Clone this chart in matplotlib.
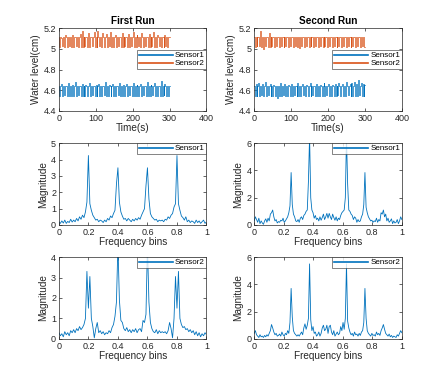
import numpy as np
import matplotlib
matplotlib.use("Agg")
import matplotlib.pyplot as plt

# Colores estilo MATLAB
BLUE = "#0072BD"
ORANGE = "#D95319"
DARK = "#262626"

# Nivel de agua - primera corrida
LEVEL1_RUN1 = [
    4.64, 4.54, 4.64, 4.66, 4.54, 4.64, 4.55, 4.64, 4.64, 4.54, 4.67, 4.54,
    4.64, 4.63, 4.54, 4.65, 4.54, 4.64, 4.68, 4.54, 4.64, 4.55, 4.64, 4.64,
    4.54, 4.66, 4.54, 4.64, 4.54, 4.65, 4.64, 4.54, 4.64, 4.67, 4.54, 4.64,
    4.55, 4.64, 4.64, 4.54, 4.65, 4.54, 4.64, 4.66, 4.54, 4.64, 4.54, 4.64,
    4.64, 4.55, 4.68, 4.54, 4.64, 4.54, 4.65, 4.64, 4.54, 4.64, 4.66, 4.54,
    4.64, 4.54, 4.64, 4.64, 4.55, 4.67, 4.54, 4.64, 4.54, 4.65, 4.64, 4.54,
    4.64, 4.66, 4.54, 4.64, 4.55, 4.64, 4.64, 4.54, 4.67, 4.54, 4.64, 4.54,
    4.65, 4.64, 4.54, 4.64, 4.66, 4.54, 4.64, 4.55, 4.64, 4.64, 4.54, 4.68,
    4.54, 4.64, 4.54, 4.65, 4.64, 4.55, 4.64, 4.67, 4.54, 4.64, 4.54, 4.64,
    4.64, 4.54, 4.69, 4.54, 4.64, 4.55, 4.66, 4.64, 4.54, 4.64, 4.54, 4.64,
]
LEVEL2_RUN1 = [
    5.12, 5.02, 5.12, 5.11, 5.03, 5.12, 5.02, 5.13, 5.12, 5.02, 5.12, 5.03,
    5.12, 5.12, 5.02, 5.13, 5.02, 5.12, 5.12, 5.03, 5.12, 5.02, 5.12, 5.14,
    5.02, 5.17, 5.02, 5.12, 5.03, 5.12, 5.12, 5.02, 5.15, 5.02, 5.12, 5.12,
    5.03, 5.12, 5.16, 5.02, 5.12, 5.02, 5.17, 5.12, 5.03, 5.12, 5.02, 5.15,
    5.12, 5.02, 5.12, 5.14, 5.02, 5.12, 5.03, 5.16, 5.12, 5.02, 5.12, 5.02,
    5.12, 5.13, 5.02, 5.12, 5.03, 5.12, 5.12, 5.02, 5.15, 5.02, 5.12, 5.03,
    5.12, 5.12, 5.02, 5.14, 5.02, 5.12, 5.03, 5.12, 5.16, 5.02, 5.12, 5.02,
    5.13, 5.12, 5.03, 5.12, 5.02, 5.15, 5.12, 5.02, 5.12, 5.03, 5.12, 5.12,
    5.02, 5.14, 5.02, 5.12, 5.03, 5.12, 5.16, 5.02, 5.12, 5.02, 5.13, 5.12,
    5.03, 5.12, 5.02, 5.12, 5.12, 5.02, 5.13, 5.03, 5.12, 5.02, 5.12, 5.12,
]

# Nivel de agua - segunda corrida
LEVEL1_RUN2 = [
    4.64, 4.54, 4.66, 4.54, 4.64, 4.67, 4.54, 4.64, 4.55, 4.66, 4.54, 4.64,
    4.68, 4.54, 4.64, 4.55, 4.64, 4.66, 4.54, 4.64, 4.54, 4.65, 4.64, 4.54,
    4.64, 4.52, 4.64, 4.54, 4.67, 4.54, 4.64, 4.55, 4.64, 4.66, 4.54, 4.64,
    4.54, 4.65, 4.64, 4.54, 4.66, 4.54, 4.64, 4.55, 4.64, 4.64, 4.54, 4.67,
    4.54, 4.64, 4.54, 4.64, 4.66, 4.55, 4.64, 4.54, 4.65, 4.64, 4.54, 4.64,
    4.67, 4.54, 4.64, 4.55, 4.64, 4.64, 4.54, 4.66, 4.54, 4.64, 4.54, 4.65,
    4.64, 4.54, 4.64, 4.67, 4.54, 4.64, 4.55, 4.64, 4.66, 4.54, 4.64, 4.54,
    4.65, 4.64, 4.54, 4.66, 4.54, 4.64, 4.55, 4.67, 4.64, 4.54, 4.64, 4.66,
    4.54, 4.64, 4.54, 4.68, 4.64, 4.55, 4.64, 4.66, 4.54, 4.67, 4.54, 4.64,
    4.68, 4.54, 4.66, 4.54, 4.70, 4.55, 4.64, 4.67, 4.54, 4.66, 4.54, 4.65,
]
LEVEL2_RUN2 = [
    5.12, 5.02, 5.12, 5.03, 5.12, 5.12, 5.03, 5.17, 5.02, 5.12, 5.00, 5.12,
    5.03, 5.12, 5.12, 5.02, 5.15, 5.02, 5.12, 5.03, 5.12, 5.12, 5.02, 5.12,
    5.03, 5.12, 5.12, 5.02, 5.12, 5.03, 5.12, 5.12, 5.02, 5.12, 5.03, 5.12,
    5.12, 5.02, 5.12, 5.03, 5.12, 5.12, 5.02, 5.12, 5.03, 5.12, 5.12, 5.02,
    5.12, 5.01, 5.12, 5.03, 5.12, 5.12, 5.02, 5.12, 5.03, 5.12, 5.12, 5.02,
    5.12, 5.03, 5.12, 5.12, 5.02, 5.12, 5.03, 5.12, 5.12, 5.02, 5.12, 5.03,
    5.12, 5.12, 5.02, 5.12, 5.03, 5.12, 5.12, 5.02, 5.12, 5.03, 5.12, 5.12,
    5.02, 5.12, 5.03, 5.12, 5.12, 5.02, 5.12, 5.03, 5.12, 5.12, 5.02, 5.12,
    5.03, 5.12, 5.12, 5.02, 5.12, 5.03, 5.12, 5.12, 5.02, 5.12, 5.03, 5.12,
    5.12, 5.02, 5.12, 5.03, 5.12, 5.12, 5.02, 5.12, 5.03, 5.12, 5.12, 5.02,
]

# Espectros - primera corrida (101 bins, 0..1)
SPEC1_RUN1 = [
    0.2, 0.1, 0.25, 0.12, 0.3, 0.1, 0.22, 0.15, 0.35, 0.18, 0.3,
    0.2, 0.4, 0.25, 0.5, 0.35, 0.6, 0.45, 0.8, 1.4,
    4.25,
    1.3, 0.9, 0.6, 0.45, 0.3, 0.35, 0.2, 0.3, 0.25, 0.15,
    0.3, 0.2, 0.4, 0.3, 0.55, 0.45, 0.7, 0.9, 2.5,
    3.5,
    1.4, 0.8, 0.55, 0.35, 0.4, 0.25, 0.4, 0.3, 0.2, 0.35,
    0.25, 0.4, 0.3, 0.45, 0.35, 0.6, 0.8, 1.0, 2.4,
    3.5,
    1.6, 0.7, 0.5, 0.4, 0.3, 0.35, 0.2, 0.3, 0.25, 0.3,
    0.2, 0.35, 0.3, 0.5, 0.4, 0.6, 0.7, 1.1, 1.3,
    4.25,
    1.3, 0.9, 0.55, 0.45, 0.3, 0.5, 0.2, 0.3, 0.15, 0.25,
    0.2, 0.1, 0.3, 0.15, 0.25, 0.1, 0.2, 0.3, 0.1, 0.2,
]
SPEC2_RUN1 = [
    0.3, 0.15, 0.25, 0.1, 0.35, 0.2, 0.3, 0.15, 0.4, 0.3, 0.45,
    0.3, 0.5, 0.4, 0.6, 0.45, 0.55, 0.7, 1.0,
    3.3, 1.5, 3.05,
    1.0, 0.6, 0.05, 0.5, 0.8, 0.3, 0.4, 0.25, 0.35,
    0.2, 0.3, 0.25, 0.4, 0.3, 0.55, 0.7, 1.1, 1.8,
    4.6,
    1.9, 0.9, 0.8, 0.5, 0.4, 0.55, 0.35, 0.45, 0.3, 0.45,
    0.35, 0.5, 0.3, 0.45, 0.5, 0.35, 0.9, 0.8, 1.2,
    4.6,
    1.8, 0.8, 0.5, 0.35, 0.3, 0.45, 0.25, 0.4, 0.3, 0.35,
    0.3, 0.35, 0.25, 0.4, 0.8, 0.5, 0.05, 1.0,
    3.05, 1.5, 3.3,
    1.0, 0.7, 0.55, 0.6, 0.45, 0.5, 0.35, 0.45, 0.3,
    0.4, 0.2, 0.35, 0.15, 0.3, 0.1, 0.25, 0.15, 0.3, 0.2,
]

# Espectros - segunda corrida (129 bins, 0..1)
SPEC1_RUN2 = [
    0.3, 0.6, 0.4, 0.2, 0.5, 0.1, 0.3, 0.15, 0.05, 0.3, 0.45, 0.2, 0.5, 0.3, 0.8, 0.9,
    1.1,
    0.6, 0.3, 0.4, 0.15, 0.25, 0.2, 0.35, 0.3, 0.5, 0.2, 0.3, 0.45, 0.6, 0.9, 1.4,
    3.85,
    1.5, 0.8, 0.6, 0.3, 0.25, 0.4, 0.2, 0.5, 0.6, 0.4, 0.7, 0.8, 1.0, 1.1, 3.2,
    6.5,
    2.0, 1.1, 0.9, 0.5, 0.7, 0.4, 0.5, 0.3, 0.6, 0.35, 0.55, 0.8, 0.4, 0.6, 0.85,
    0.5,
    0.85, 0.6, 0.4, 0.8, 0.55, 0.35, 0.6, 0.3, 0.5, 0.4, 0.7, 0.9, 1.0, 1.1, 2.0,
    6.5,
    3.0, 1.1, 1.0, 0.8, 0.7, 0.4, 0.6, 0.5, 0.2, 0.4, 0.25, 0.3, 0.6, 0.8, 1.5,
    3.85,
    1.3, 0.9, 0.6, 0.45, 0.3, 0.35, 0.2, 0.3, 0.25, 0.5, 0.2, 0.4, 0.3, 0.9, 0.8,
    1.1,
    0.6, 0.8, 0.3, 0.5, 0.2, 0.3, 0.45, 0.1, 0.3, 0.15, 0.2, 0.4, 0.1, 0.3, 0.6, 0.4,
]
SPEC2_RUN2 = [
    0.4, 0.6, 0.3, 0.2, 0.1, 0.3, 0.15, 0.2, 0.1, 0.25, 0.15, 0.3, 0.2, 0.4, 0.6, 1.05,
    0.8, 0.5, 0.3, 0.4, 0.2, 0.25, 0.35, 0.2, 0.5, 0.3, 0.2, 0.4, 0.3, 0.6, 0.4, 1.2,
    3.7,
    1.6, 0.6, 0.4, 0.3, 0.2, 0.3, 0.2, 0.35, 0.5, 0.3, 0.8, 1.1, 0.7, 1.0, 1.5,
    5.5,
    1.4, 0.6, 0.9, 0.4, 0.5, 0.2, 0.3, 0.5, 0.2, 0.4, 0.8, 1.0, 0.6, 0.7, 1.0,
    0.4,
    0.9, 1.0, 0.5, 0.3, 0.6, 0.2, 0.35, 0.5, 0.3, 0.4, 0.9, 0.6, 1.2, 0.7, 1.5,
    5.5,
    1.3, 0.8, 0.5, 0.3, 0.4, 0.2, 0.5, 0.3, 0.35, 0.2, 0.4, 0.25, 0.5, 0.6, 1.2,
    3.7,
    1.5, 0.6, 0.4, 0.3, 0.2, 0.4, 0.25, 0.3, 0.2, 0.5, 0.3, 0.4, 0.25, 0.6, 0.8, 1.05,
    0.7, 0.4, 0.3, 0.2, 0.35, 0.15, 0.25, 0.1, 0.2, 0.15, 0.1, 0.3, 0.2, 0.4, 0.6, 0.45,
]

TIME_END = 300
TITLES = ["First Run", "Second Run"]

plt.rcParams["font.family"] = ["Liberation Sans", "DejaVu Sans"]
plt.rcParams["axes.linewidth"] = 0.5


def style_axes(ax):
    ax.tick_params(direction="in", length=2.5, width=0.5, labelsize=6.5,
                   colors=DARK, top=True, right=True, pad=2)
    for sp in ax.spines.values():
        sp.set_color(DARK)


def legend(ax, handles, labels, anchor):
    leg = ax.legend(handles, labels, loc="upper right", bbox_to_anchor=anchor,
                    fontsize=5.8, frameon=True, fancybox=False,
                    borderpad=0.2, handlelength=4.2, handletextpad=0.3,
                    labelspacing=0.05, borderaxespad=0)
    leg.get_frame().set_edgecolor(DARK)
    leg.get_frame().set_linewidth(0.5)
    for ln in leg.get_lines():
        ln.set_linewidth(1.2)


fig = plt.figure(figsize=(4.46, 3.82), dpi=100)
fig.patch.set_facecolor("white")

lefts = [0.132, 0.570]
width = 0.331
rows = [(0.710, 0.216), (0.411, 0.214), (0.113, 0.214)]

levels = [(LEVEL1_RUN1, LEVEL2_RUN1), (LEVEL1_RUN2, LEVEL2_RUN2)]
specs1 = [SPEC1_RUN1, SPEC1_RUN2]
specs2 = [SPEC2_RUN1, SPEC2_RUN2]
ylims1 = [(0, 5, [0, 1, 2, 3, 4, 5]), (0, 6, [0, 2, 4, 6])]
ylims2 = [(0, 4, [0, 1, 2, 3, 4]), (0, 6, [0, 2, 4, 6])]

for col in range(2):
    x0 = lefts[col]

    # Serie temporal
    ax = fig.add_axes([x0, rows[0][0], width, rows[0][1]])
    s1, s2 = levels[col]
    t = np.linspace(0, TIME_END, len(s1))
    l1, = ax.plot(t, s1, color=BLUE, lw=0.5, drawstyle="steps-mid")
    l2, = ax.plot(t, s2, color=ORANGE, lw=0.5, drawstyle="steps-mid")
    ax.set_xlim(0, 400)
    ax.set_ylim(4.4, 5.2)
    ax.set_xticks([0, 100, 200, 300, 400])
    ax.set_yticks([4.4, 4.6, 4.8, 5.0, 5.2])
    ax.set_yticklabels(["4.4", "4.6", "4.8", "5", "5.2"])
    ax.set_xlabel("Time(s)", fontsize=7.2, color=DARK, labelpad=0)
    ax.set_ylabel("Water level(cm)", fontsize=7.2, color=DARK, labelpad=2)
    ax.set_title(TITLES[col], fontsize=7.2, fontweight="bold", color="black", pad=3)
    style_axes(ax)
    legend(ax, [l1, l2], ["Sensor1", "Sensor2"], (1.0, 0.735))

    # Espectros
    for r, spec, lim, name in [(1, specs1[col], ylims1[col], "Sensor1"),
                               (2, specs2[col], ylims2[col], "Sensor2")]:
        ax = fig.add_axes([x0, rows[r][0], width, rows[r][1]])
        f = np.linspace(0, 1, len(spec))
        ln, = ax.plot(f, spec, color=BLUE, lw=0.6)
        ax.set_xlim(0, 1)
        ax.set_ylim(lim[0], lim[1])
        ax.set_yticks(lim[2])
        ax.set_yticklabels([str(v) for v in lim[2]])
        ax.set_xticks([0, 0.2, 0.4, 0.6, 0.8, 1.0])
        ax.set_xticklabels(["0", "0.2", "0.4", "0.6", "0.8", "1"])
        ax.set_xlabel("Frequency bins", fontsize=7.2, color=DARK, labelpad=0)
        ax.set_ylabel("Magnitude", fontsize=7.2, color=DARK, labelpad=2)
        style_axes(ax)
        legend(ax, [ln], [name], (1.0, 1.0))

fig.savefig("out.png", dpi=100, facecolor="white")
plt.close(fig)
